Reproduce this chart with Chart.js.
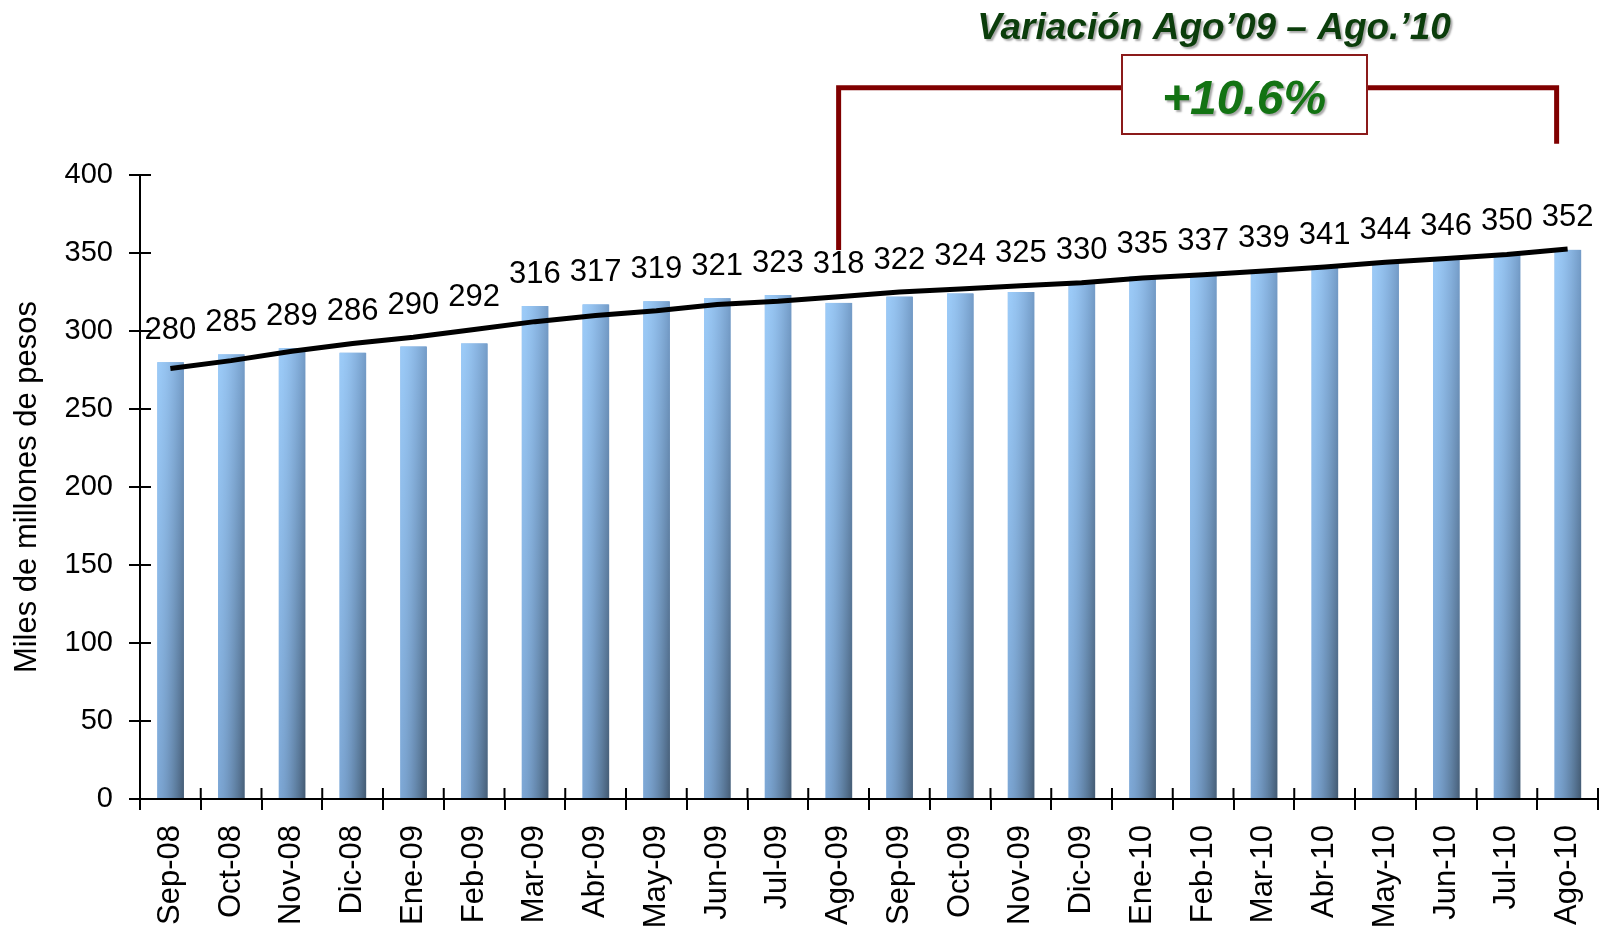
<!DOCTYPE html>
<html lang="es">
<head>
    <meta charset="UTF-8">
    <title>Saldo - Variación Ago'09 - Ago'10</title>
    <script src="https://cdn.jsdelivr.net/npm/chart.js"></script>
    <style>
        body { margin: 0; background: #fff; }
        #chart { display: block; }
    </style>
</head>
<body>
    <canvas id="chart" width="1601" height="926"></canvas>

    <script>
    // datos
    const meses = ['Sep-08', 'Oct-08', 'Nov-08', 'Dic-08', 'Ene-09', 'Feb-09', 'Mar-09', 'Abr-09',
        'May-09', 'Jun-09', 'Jul-09', 'Ago-09', 'Sep-09', 'Oct-09', 'Nov-09', 'Dic-09',
        'Ene-10', 'Feb-10', 'Mar-10', 'Abr-10', 'May-10', 'Jun-10', 'Jul-10', 'Ago-10'];
    const saldo = [280, 285, 289, 286, 290, 292, 316, 317, 319, 321, 323, 318,
        322, 324, 325, 330, 335, 337, 339, 341, 344, 346, 350, 352];
    const tendencia = [276, 281, 287, 292, 296, 301, 306, 310, 313, 317, 319, 322,
        325, 327, 329, 331, 334, 336, 338.5, 341, 344, 346.5, 349, 352.5];
    const tituloEje = 'Miles de millones de pesos';
    const tituloVariacion = 'Variación Ago’09 – Ago.’10';
    const variacion = '+10.6%';

    const FONT = '"Liberation Sans", Arial, sans-serif';

    function mix(a, b, t) {
        return 'rgb(' + a.map((v, i) => Math.round(v + (b[i] - v) * t)).join(',') + ')';
    }

    // degradado de las barras (claro a la izquierda, oscuro a la derecha y abajo)
    const barShade = {
        id: 'barShade',
        afterDatasetDraw(chart, args) {
            if (args.meta.type !== 'bar') return;
            const ctx = chart.ctx;
            ctx.save();
            args.meta.data.forEach(el => {
                const left = el.x - el.width / 2;
                const n = Math.round(el.width);
                for (let k = 0; k < n; k++) {
                    const t = Math.pow((k + 0.5) / n, 1.5);
                    const g = ctx.createLinearGradient(0, el.y, 0, el.base);
                    g.addColorStop(0, mix([156, 203, 248], [116, 156, 200], t));
                    g.addColorStop(1, mix([124, 166, 212], [68, 92, 116], t));
                    ctx.fillStyle = g;
                    ctx.fillRect(left + k * el.width / n, el.y, el.width / n + 0.5, el.base - el.y);
                }
            });
            ctx.restore();
        }
    };

    // marcas que cruzan los ejes + etiquetas de valores
    const extras = {
        id: 'extras',
        afterDatasetsDraw(chart) {
            const ctx = chart.ctx;
            const x = chart.scales.x, y = chart.scales.y;
            const area = chart.chartArea;
            ctx.save();
            ctx.strokeStyle = '#000';
            ctx.lineWidth = 2;
            ctx.beginPath();
            y.ticks.forEach(t => {
                const py = y.getPixelForValue(t.value);
                ctx.moveTo(area.left, py);
                ctx.lineTo(area.left + 11, py);
            });
            const paso = x.getPixelForValue(1) - x.getPixelForValue(0);
            for (let i = 0; i <= meses.length; i++) {
                const px = x.getPixelForValue(i) - paso / 2;
                ctx.moveTo(px, area.bottom);
                ctx.lineTo(px, area.bottom - 11);
            }
            ctx.stroke();

            const bars = chart.getDatasetMeta(0).data;
            const line = chart.getDatasetMeta(1).data;
            ctx.fillStyle = '#000';
            ctx.font = '31px ' + FONT;
            ctx.textAlign = 'center';
            ctx.textBaseline = 'middle';
            bars.forEach((b, i) => {
                const top = Math.min(b.y, line[i].y);
                ctx.fillText(String(saldo[i]), b.x, top - 32);
            });

            // corchete de variacion
            const xl = x.getPixelForValue(11);
            const xr = x.getPixelForValue(23) - 11;
            const yTop = y.getPixelForValue(456);
            ctx.strokeStyle = '#800000';
            ctx.lineWidth = 5;
            ctx.beginPath();
            ctx.moveTo(xl, y.getPixelForValue(352));
            ctx.lineTo(xl, yTop);
            ctx.lineTo(xr, yTop);
            ctx.lineTo(xr, y.getPixelForValue(420));
            ctx.stroke();

            ctx.fillStyle = '#fff';
            ctx.fillRect(1122, 55, 245, 79);
            ctx.strokeStyle = '#8b1a1a';
            ctx.lineWidth = 2;
            ctx.strokeRect(1122, 55, 245, 79);

            ctx.shadowColor = 'rgba(0,0,0,0.35)';
            ctx.shadowOffsetX = 2;
            ctx.shadowOffsetY = 2;
            ctx.shadowBlur = 2;
            ctx.textBaseline = 'alphabetic';
            ctx.font = 'italic bold 37px ' + FONT;
            ctx.fillStyle = '#0b3d0b';
            ctx.fillText(tituloVariacion, 1214, 39);
            ctx.font = 'italic bold 48px ' + FONT;
            ctx.fillStyle = '#137313';
            ctx.fillText(variacion, 1244, 114);
            ctx.restore();
        }
    };

    new Chart(document.getElementById('chart'), {
        type: 'bar',
        data: {
            labels: meses,
            datasets: [{
                label: 'Saldo',
                data: saldo,
                backgroundColor: '#8fb8e3',
                barPercentage: 0.43,
                categoryPercentage: 1,
                order: 2
            }, {
                type: 'line',
                label: 'Tendencia',
                data: tendencia,
                borderColor: '#000',
                borderWidth: 5,
                pointRadius: 0,
                tension: 0,
                fill: false,
                order: 1
            }]
        },
        options: {
            responsive: false,
            animation: false,
            layout: { padding: { top: 175, right: 3, left: 0, bottom: 0 } },
            plugins: {
                legend: { display: false },
                tooltip: { enabled: false }
            },
            scales: {
                y: {
                    min: 0,
                    max: 400,
                    ticks: { stepSize: 50, color: '#000', padding: 16, font: { family: FONT, size: 29 } },
                    grid: { drawOnChartArea: false, tickLength: 11, color: '#000', lineWidth: 2 },
                    border: { color: '#000', width: 2 },
                    title: {
                        display: true,
                        text: tituloEje,
                        color: '#000',
                        padding: { top: 9, bottom: 0 },
                        font: { family: FONT, size: 31 }
                    },
                    afterFit: s => { s.width = 140; s.paddingTop = 0; s.paddingBottom = 0; }
                },
                x: {
                    ticks: {
                        color: '#000', autoSkip: false, maxRotation: 90, minRotation: 90,
                        padding: 15, font: { family: FONT, size: 31 }
                    },
                    grid: { drawOnChartArea: false, tickLength: 11, color: '#000', lineWidth: 2, offset: true },
                    border: { color: '#000', width: 2 },
                    afterFit: s => { s.height = 127; s.paddingLeft = 0; s.paddingRight = 0; }
                }
            }
        },
        plugins: [barShade, extras]
    });
    </script>
</body>
</html>
